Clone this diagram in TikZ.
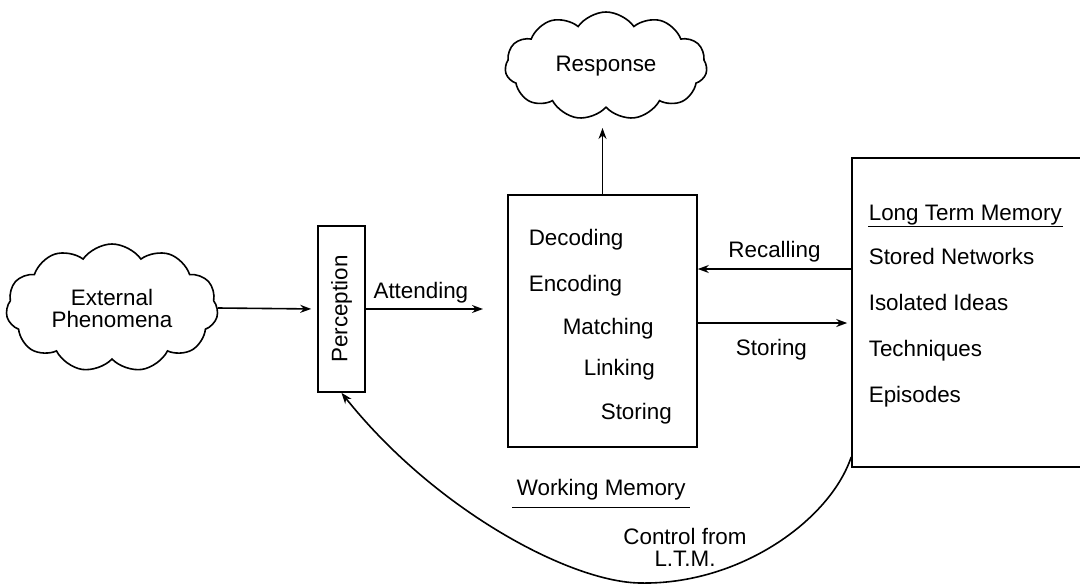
\documentclass[tikz,border=0pt]{standalone}
\usepackage{fontspec}
\setmainfont{Liberation Sans}
\usetikzlibrary{shapes.symbols,arrows.meta}
\tikzset{
  puff/.style={cloud,draw,cloud puffs=11,cloud puff arc=110,aspect=2,inner sep=0pt,align=center},
  box/.style={rectangle,draw,inner sep=0pt},
  item/.style={inner sep=0pt,anchor=base west},
  lbl/.style={inner sep=0pt,anchor=base},
}
\begin{document}
\begin{tikzpicture}[x=0.5pt,y=-0.5pt,line width=0.8pt,>={Stealth[length=5.5pt,width=4pt]},font=\fontsize{11.2}{11}\selectfont]
  \clip (0,0) rectangle (1080,584);
  \node[puff,minimum width=106pt,minimum height=64pt] (ext) at (112,308) {External\\Phenomena};
  \node[puff,minimum width=101pt,minimum height=54pt] (resp) at (606,66) {Response};
  \node[box,minimum width=23.5pt,minimum height=83pt] (perc) at (341.5,309) {\rotatebox{90}{Perception}};
  \node[box,minimum width=94.5pt,minimum height=126pt] (wm) at (602.5,321) {};
  \node[box,minimum width=119pt,minimum height=154.5pt] (ltm) at (971,312.5) {};
  % working memory
  \node[item] (dec) at (528,245) {Decoding};
  \node[item] (enc) at (528,291) {Encoding};
  \node[item] (mat) at (562,334) {Matching};
  \node[item] (lnk) at (583,375) {Linking};
  \node[item] (sto) at (600,419) {Storing};
  \node[item] (wmlbl) at (516,495) {Working Memory};
  \draw ([xshift=-2pt,yshift=-3.5pt]wmlbl.south west) -- ([xshift=2pt,yshift=-3.5pt]wmlbl.south east);
  % long term memory
  \node[item] (ltmlbl) at (868,220) {Long Term Memory};
  \draw ([yshift=-0.5pt]ltmlbl.south west) -- ([yshift=-0.5pt]ltmlbl.south east);
  \node[item] (net) at (868,264) {Stored Networks};
  \node[item] (ide) at (868,310) {Isolated Ideas};
  \node[item] (tec) at (868,356) {Techniques};
  \node[item] (epi) at (868,402) {Episodes};
  % connectors
  \coordinate (att) at (483,309);
  \coordinate (up) at (602.5,128);
  \coordinate (low) at (640,583);
  \draw[->,shorten >=3pt] (ext.east) -- (perc.west);
  \draw[->] (perc.east) -- (att) node[lbl,pos=0.47,yshift=5.5pt] {Attending};
  \draw[->] (wm.north) -- (up);
  \draw[->] (ltm.west |- 0,269) -- (wm.east |- 0,269) node[lbl,midway,yshift=6pt] {Recalling};
  \draw[->,shorten >=2pt] (wm.east |- 0,323) -- (ltm.west |- 0,323) node[lbl,pos=0.48,yshift=-16pt] {Storing};
  \draw[->] (ltm.west |- 0,457) .. controls (830,520) and (740,585) .. (low)
    .. controls (570,582) and (435,510) .. (perc.south);
  \node[align=center] (ctl) at (685,547) {Control from\\L.T.M.};
\end{tikzpicture}
\end{document}
